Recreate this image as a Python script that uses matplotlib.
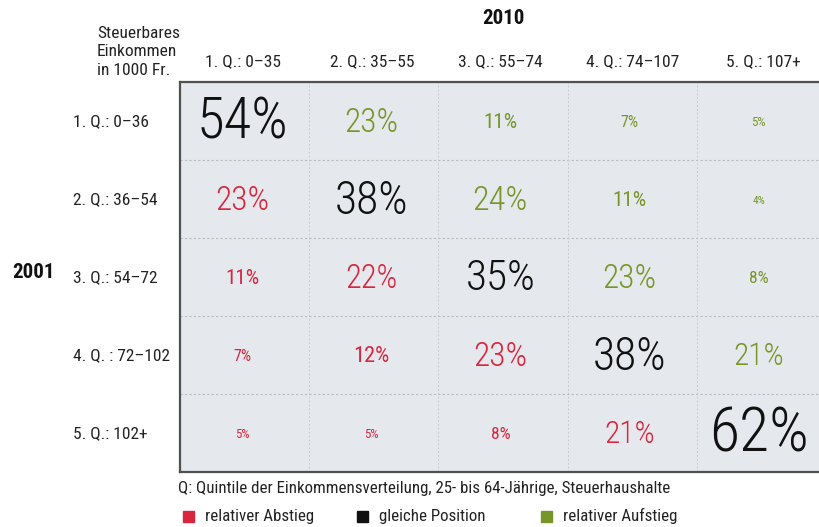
import matplotlib.pyplot as plt
from matplotlib.patches import Rectangle
import numpy as np

# data
years = ["2001", "2010"]
row_labels = ["1. Q.: 0–36", "2. Q.: 36–54", "3. Q.: 54–72", "4. Q. : 72–102", "5. Q.: 102+"]
col_labels = ["1. Q.: 0–35", "2. Q.: 35–55", "3. Q.: 55–74", "4. Q.: 74–107", "5. Q.: 107+"]
values = np.array([
  [54, 23, 11, 7, 5],
  [23, 38, 24, 11, 4],
  [11, 22, 35, 23, 8],
  [7, 12, 23, 38, 21],
  [5, 5, 8, 21, 62],
])
legend_labels = ["relativer Abstieg", "gleiche Position", "relativer Aufstieg"]
note = "Q: Quintile der Einkommensverteilung, 25- bis 64-Jährige, Steuerhaushalte"

red = "#d8263e"
black = "#111111"
green = "#76962a"
fam = ["Roboto Condensed", "Archivo Narrow", "Barlow Condensed", "DejaVu Sans"]
plt.rcParams['font.family'] = fam

W, H = 820, 527
fig = plt.figure(figsize=(W/100, H/100), dpi=100)

# table area in pixels: x 180..~826, y 82..472
x0, x1, y0, y1 = 180, 826, 82, 472
ax = fig.add_axes([x0/W, 1 - y1/H, (x1-x0)/W, (y1-y0)/H])
ax.set_xlim(0, 5)
ax.set_ylim(5, 0)
ax.set_facecolor("#e5e8ec")
ax.set_xticks([])
ax.set_yticks([])
for s in ["top", "left", "bottom"]:
  ax.spines[s].set_color("#505050")
  ax.spines[s].set_linewidth(1.6)
ax.spines["right"].set_visible(False)
for k in range(1, 5):
  ax.axhline(k, color="#b8bcc2", lw=0.8, ls=(0, (2, 2)))
  ax.axvline(k, color="#c8ccd2", lw=0.7, ls=(0, (2, 2)))

for i in range(5):
  for j in range(5):
    v = values[i, j]
    c = black if i == j else (green if j > i else red)
    fs = 3.45 * v ** 0.62
    ax.text(j + 0.5 - 0.02, i + 0.52, f"{v}%", ha="center", va="center",
            fontsize=fs, color=c, fontweight="light" if v >= 15 else "normal")

def ftxt(x, y, s, **kw):
  fig.text(x/W, 1 - y/H, s, **kw)

ftxt(503, 18, years[1], ha="center", va="center", fontsize=15, fontweight="bold", color="#111111")
ftxt(33, 272, years[0], ha="center", va="center", fontsize=15, fontweight="bold", color="#111111")
ftxt(97, 52, "Steuerbares\nEinkommen\nin 1000 Fr.", ha="left", va="center", fontsize=12.5,
     color="#222222", linespacing=1.3)

col_x = [243, 372, 500, 633, 763]
for lab, cx in zip(col_labels, col_x):
  ftxt(cx, 62, lab, ha="center", va="center", fontsize=12.5, color="#222222")
row_y = [122, 200, 278, 356, 434]
for lab, ry in zip(row_labels, row_y):
  ftxt(73, ry, lab, ha="left", va="center", fontsize=12.5, color="#222222")

ftxt(178, 488, note, ha="left", va="center", fontsize=12.2, color="#222222")

leg_x = [183, 357, 541]
for lab, lx, c in zip(legend_labels, leg_x, [red, black, green]):
  fig.patches.append(Rectangle((lx/W, 1 - 522/H), 11/W, 11/H, transform=fig.transFigure,
                               color=c, figure=fig))
  ftxt(lx + 22, 516, lab, ha="left", va="center", fontsize=12.2, color="#222222")

fig.savefig("out.png", dpi=100)
